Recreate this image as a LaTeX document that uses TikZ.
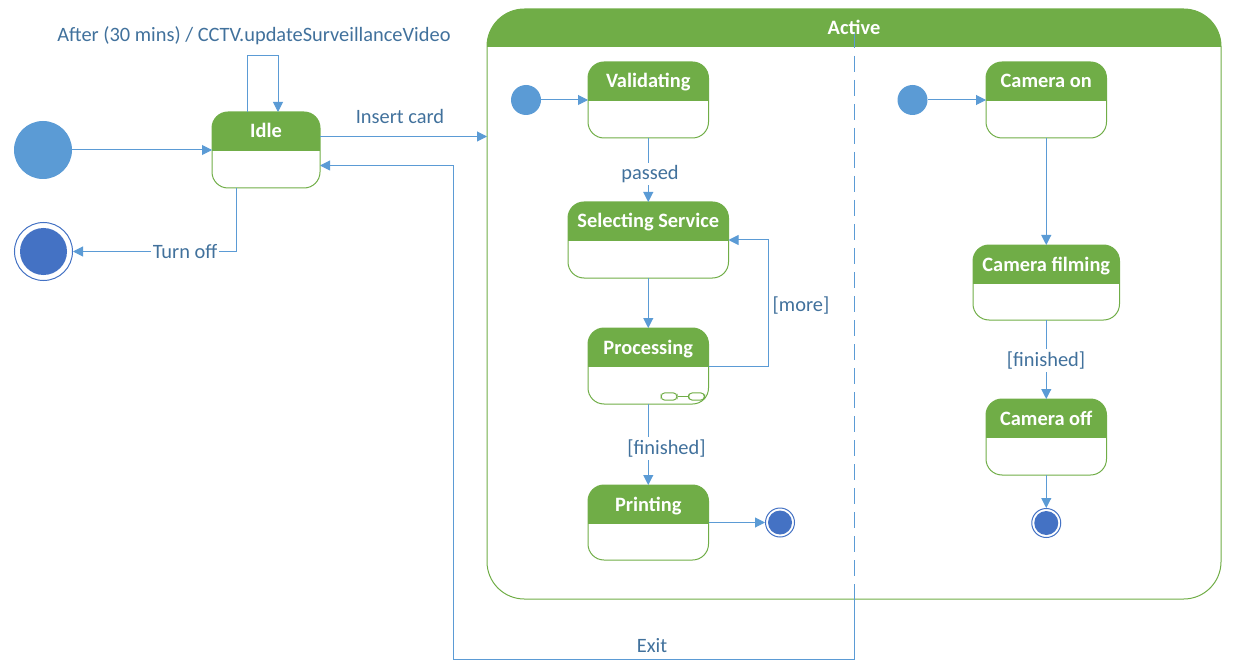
\documentclass[tikz,border=0pt]{standalone}
\usepackage{fontspec}
\setmainfont{Carlito}
\usetikzlibrary{arrows.meta,positioning,calc}
\definecolor{Leaf}{HTML}{70AD47}
\definecolor{Wire}{HTML}{5B9BD5}
\definecolor{Deep}{HTML}{4472C4}
\definecolor{Ink}{HTML}{41719C}
\tikzset{
  flow/.style={Wire,line width=0.75pt,-{Triangle[length=7.5pt,width=7.5pt]}},
  wire/.style={Wire,line width=0.75pt},
  edgetext/.style={font=\fontsize{15.3}{17}\selectfont,text=Ink,inner sep=1pt},
  gaptext/.style={edgetext,fill=white,inner ysep=2pt},
  titletext/.style={font=\fontsize{15.3}{17}\selectfont\bfseries,text=white,inner sep=0pt,text height=10.5pt,text depth=3pt},
  startdot/.style={circle,fill=Wire,inner sep=0pt},
  endring/.style={circle,draw=Deep,fill=white,line width=0.75pt,inner sep=0pt},
  enddot/.style={circle,fill=Deep,inner sep=0pt},
  linkbox/.style={draw=Leaf,line width=0.75pt,rounded corners=3pt,minimum width=12pt,minimum height=5.6pt,inner sep=0pt},
}
% name, left, top, width, height, title height, title
\newcommand{\statebox}[7]{
  \begin{scope}[shift={(#2,#3)}]
    \begin{scope}
      \clip[rounded corners=12pt] (0,0) rectangle (#4,-#5);
      \fill[Leaf] (0,0) rectangle (#4,-#6);
    \end{scope}
    \node[draw=Leaf,line width=0.75pt,rounded corners=12pt,anchor=north west,inner sep=0pt,outer sep=0pt,
      minimum width=#4*0.75pt,minimum height=#5*0.75pt] (#1) at (0,0) {};
    \node[titletext] (#1t) at (#4/2,-#6/2-1.5) {#7};
  \end{scope}
}
\begin{document}
\begin{tikzpicture}[x=0.75pt,y=0.75pt]
\useasboundingbox (0,0) rectangle (1237,665);
% Active
\begin{scope}
  \clip[rounded corners=28pt] (487,656) rectangle (1221,66);
  \fill[Leaf] (487,656) rectangle (1221,618);
\end{scope}
\node[draw=Leaf,line width=0.75pt,rounded corners=28pt,anchor=north west,inner sep=0pt,outer sep=0pt,
  minimum width=734*0.75pt,minimum height=590*0.75pt] (active) at (487,656) {};
\coordinate (splittop) at (854.5,633);
\coordinate (splitend) at (854.5,81);
\draw[wire,dash pattern=on 12pt off 6pt] (splittop) -- (splitend);
\node[titletext] (activet) at (854,635.5) {Active};
% left side
\node[startdot,minimum size=58*0.75pt] (bigstart) at (43,515) {};
\node[endring,minimum size=58*0.75pt] (bigring) at (43.5,413.5) {};
\node[enddot,minimum size=47*0.75pt] (bigend) at (43.5,413.5) {};
\statebox{idle}{212}{553}{108}{76}{39}{Idle}
% region one
\node[startdot,minimum size=30*0.75pt] (starta) at (526,565) {};
\statebox{valid}{588}{603}{120.5}{76}{39}{Validating}
\statebox{select}{568}{463}{160.5}{76}{39}{Selecting Service}
\statebox{proc}{588}{337}{120.5}{76}{39}{Processing}
\statebox{print}{588}{180}{120.5}{75}{39}{Printing}
\node[endring,minimum size=29*0.75pt] (ringa) at (780,142.5) {};
\node[enddot,minimum size=24*0.75pt] (enda) at (780,142.5) {};
\node[linkbox] (linka) at (669,268.5) {};
\node[linkbox] (linkb) at (696.5,268.5) {};
\draw[Leaf,line width=0.75pt] (linka) -- (linkb);
% region two
\node[startdot,minimum size=30*0.75pt] (startb) at (912.5,565) {};
\statebox{camon}{986}{603}{120.5}{76}{39}{Camera on}
\statebox{camfilm}{973}{420}{146.5}{75}{39}{Camera filming}
\statebox{camoff}{986}{266}{120.5}{76}{39}{Camera off}
\node[endring,minimum size=29*0.75pt] (ringb) at (1046.25,142) {};
\node[enddot,minimum size=24*0.75pt] (endb) at (1046.25,142) {};
% connectors
\coordinate (cardout) at ($(idle.east)+(0,13.5)$);
\coordinate (exitin) at ($(idle.east)+(0,-15.5)$);
\draw[flow] (bigstart) -- (idle.west);
\draw[flow] ($(idle.north)+(-19,0)$) -- ++(0,56) -- ++(31,0) -- ++(0,-56);
\draw[flow] (cardout) -- (cardout -| active.west);
\draw[flow] ($(idle.south)+(-30,0)$) |- (bigring.east);
\draw[flow] (starta) -- (valid.west);
\draw[flow] (valid.south) -- (select.north);
\draw[flow] (select.south) -- (proc.north);
\draw[flow] (proc.east) -- ++(60,0) |- (select.east);
\draw[flow] (proc.south) -- (print.north);
\draw[flow] (print.east) -- (ringa.west);
\draw[flow] (startb) -- (camon.west);
\draw[flow] (camon.south) -- (camfilm.north);
\draw[flow] (camfilm.south) -- (camoff.north);
\draw[flow] (camoff.south) -- (ringb.north);
\draw[flow] (splitend) -- (854.5,5.5) -- (453.5,5.5) -- (453.5,499.5) -- (exitin);
% labels
\node[edgetext] (looplabel) at (254,629.5) {After (30 mins) / CCTV.updateSurveillanceVideo};
\node[edgetext] (insertlabel) at (400,548.5) {Insert card};
\node[gaptext] (offlabel) at (185,413.5) {Turn off};
\node[gaptext] (passedlabel) at (650,491) {passed};
\node[edgetext] (morelabel) at (801,359.5) {[more]};
\node[gaptext] (finlabela) at (666.5,216.5) {[finished]};
\node[gaptext] (finlabelb) at (1046,304.5) {[finished]};
\node[edgetext] (exitlabel) at (652,19.5) {Exit};
\end{tikzpicture}
\end{document}
